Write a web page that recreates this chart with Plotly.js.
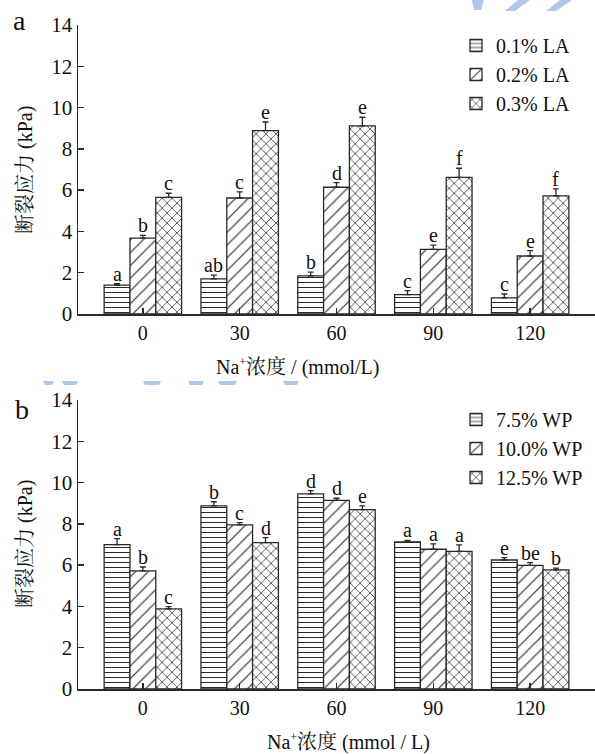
<!DOCTYPE html>
<html><head><meta charset="utf-8">
<script src="https://cdn.plot.ly/plotly-3.0.1.min.js"></script>
<style>html,body{margin:0;padding:0;background:#fff}#chart{width:595px;height:754px}</style>
</head><body><div id="chart"></div>
<script>
// ---- data ----
const naConc = ['0', '30', '60', '90', '120'];

const laNames = ['0.1% LA', '0.2% LA', '0.3% LA'];
const la01 = [1.40, 1.70, 1.85, 0.94, 0.78];
const la01Err = [0.07, 0.18, 0.18, 0.19, 0.19];
const la01Sig = ['a', 'ab', 'b', 'c', 'c'];
const la02 = [3.68, 5.62, 6.14, 3.13, 2.81];
const la02Err = [0.13, 0.30, 0.22, 0.21, 0.26];
const la02Sig = ['b', 'c', 'd', 'e', 'e'];
const la03 = [5.65, 8.88, 9.11, 6.62, 5.72];
const la03Err = [0.20, 0.42, 0.42, 0.44, 0.34];
const la03Sig = ['c', 'e', 'e', 'f', 'f'];

const wpNames = ['7.5% WP', '10.0% WP', '12.5% WP'];
const wp75 = [6.99, 8.87, 9.45, 7.12, 6.25];
const wp75Err = [0.29, 0.20, 0.16, 0.08, 0.11];
const wp75Sig = ['a', 'b', 'd', 'a', 'e'];
const wp100 = [5.72, 7.95, 9.14, 6.77, 5.99];
const wp100Err = [0.19, 0.11, 0.10, 0.26, 0.13];
const wp100Sig = ['b', 'c', 'd', 'a', 'be'];
const wp125 = [3.88, 7.09, 8.69, 6.67, 5.77];
const wp125Err = [0.11, 0.24, 0.18, 0.31, 0.09];
const wp125Sig = ['c', 'd', 'e', 'a', 'b'];

// ---- styling ----
const FONT = "'Liberation Serif', 'Times New Roman', 'Noto Serif CJK SC', 'Noto Sans CJK SC', serif";
const INK = '#2a2a2a';
const patShapes = ['-', '/', 'x'];
const patSizes = [5, 9, 7];
const patSolid = [0.2, 0.13, 0.2];
const xs = naConc.map((_, i) => i);
const BARGAP = 0.2;
const barW = (1 - BARGAP) / 3;

function makeTrace(name, vals, errs, k, xaxis, yaxis, legend) {
  return {
    type: 'bar', name: name, x: xs, y: vals,
    xaxis: xaxis, yaxis: yaxis, legend: legend,
    offsetgroup: String(k),
    marker: {
      color: 'white',
      line: {color: INK, width: 1.3},
      pattern: {shape: patShapes[k], size: patSizes[k], solidity: patSolid[k],
                fgcolor: INK, bgcolor: 'white', fillmode: 'replace'}
    },
    error_y: {type: 'data', symmetric: false, array: errs,
              arrayminus: errs.map(() => 0),
              color: INK, thickness: 1.3, width: 3},
    hoverinfo: 'x+y'
  };
}

const laSeries = [[la01, la01Err, la01Sig], [la02, la02Err, la02Sig], [la03, la03Err, la03Sig]];
const wpSeries = [[wp75, wp75Err, wp75Sig], [wp100, wp100Err, wp100Sig], [wp125, wp125Err, wp125Sig]];

const data = [];
laSeries.forEach((s, k) => data.push(makeTrace(laNames[k], s[0], s[1], k, 'x', 'y', 'legend')));
wpSeries.forEach((s, k) => data.push(makeTrace(wpNames[k], s[0], s[1], k, 'x2', 'y2', 'legend2')));

const annotations = [];
function addSig(series, xref, yref) {
  series.forEach((s, k) => {
    s[0].forEach((v, i) => {
      annotations.push({
        x: i + (k - 1) * barW, y: v + s[1][i], xref: xref, yref: yref,
        text: s[2][i], showarrow: false, xanchor: 'center', yanchor: 'bottom', yshift: -3,
        font: {family: FONT, size: 20, color: '#111'}
      });
    });
  });
}
addSig(laSeries, 'x', 'y');
addSig(wpSeries, 'x2', 'y2');

// Plot area: px x 78..595, y 25..689
const L = 78, W = 517, T = 25, H = 664;
const px = v => (v - L) / W;
const py = v => (T + H - v) / H;

function paperText(x, y, text, size, angle) {
  annotations.push({xref: 'paper', yref: 'paper', x: px(x), y: py(y), text: text,
    showarrow: false, xanchor: 'center', yanchor: 'middle', textangle: angle || 0,
    font: {family: FONT, size: size, color: '#111'}});
}
const SUP = '<sup><span style="font-size:12px">+</span></sup>';
// panel labels
paperText(19, 21, 'a', 28);
paperText(22, 409, 'b', 28);
// axis titles
paperText(297, 367, 'Na' + SUP + '浓度 / (mmol/L)', 20);
paperText(348, 742, 'Na' + SUP + '浓度 (mmol / L)', 20);
paperText(25, 170, '断裂应力 (kPa)', 20, -90);
paperText(25, 544, '断裂应力 (kPa)', 20, -90);

// faint watermark fragments
const WM = 'rgba(150,180,225,0.75)';
const shapes = [];
function poly(pts) {
  return {type: 'path', xref: 'paper', yref: 'paper', line: {width: 0}, fillcolor: WM,
    path: 'M' + pts.map(p => px(p[0]) + ',' + py(p[1])).join('L') + 'Z'};
}
shapes.push(poly([[472, 0], [484, 0], [481, 10], [474, 10]]));
shapes.push(poly([[518, 0], [530, 0], [515, 11], [505, 11]]));
shapes.push(poly([[560, 0], [572, 0], [556, 11], [546, 11]]));
[[43, 54], [62, 78], [143, 161], [188, 204], [218, 237], [283, 299]].forEach(r => {
  shapes.push(poly([[r[0], 381], [r[1], 381], [r[1] - 2, 385], [r[0] + 2, 385]]));
});

const xaxisBase = {
  range: [-0.67, 4.67], tickvals: xs, ticktext: naConc,
  ticks: 'inside', ticklen: 6, tickwidth: 1.3, tickcolor: INK,
  showline: true, linecolor: INK, linewidth: 1.5,
  showgrid: false, zeroline: false,
  tickfont: {family: FONT, size: 20, color: '#111'}
};
const yaxisBase = {
  range: [0, 14], dtick: 2, ticks: 'inside', ticklen: 6, tickwidth: 1.3, tickcolor: INK,
  showline: true, linecolor: INK, linewidth: 1.5,
  showgrid: false, zeroline: false,
  tickfont: {family: FONT, size: 21, color: '#111'}
};

const legendBase = {
  bgcolor: 'rgba(0,0,0,0)', borderwidth: 0,
  font: {family: FONT, size: 20, color: '#111'},
  xanchor: 'left', yanchor: 'top', tracegroupgap: 0, itemwidth: 30
};

const layout = {
  width: 595, height: 754,
  margin: {l: L, r: 0, t: T, b: 754 - T - H},
  paper_bgcolor: 'white', plot_bgcolor: 'white',
  barmode: 'group', bargap: BARGAP, bargroupgap: 0,
  showlegend: true,
  xaxis: Object.assign({}, xaxisBase, {anchor: 'y', domain: [0, 1]}),
  yaxis: Object.assign({}, yaxisBase, {anchor: 'x', domain: [py(314), 1]}),
  xaxis2: Object.assign({}, xaxisBase, {anchor: 'y2', domain: [0, 1]}),
  yaxis2: Object.assign({}, yaxisBase, {anchor: 'x2', domain: [0, py(400)]}),
  legend: Object.assign({}, legendBase, {x: px(456), y: py(26)}),
  legend2: Object.assign({}, legendBase, {x: px(456), y: py(400)}),
  annotations: annotations,
  shapes: shapes
};

Plotly.newPlot('chart', data, layout, {displayModeBar: false, staticPlot: true});
</script>
</body></html>
